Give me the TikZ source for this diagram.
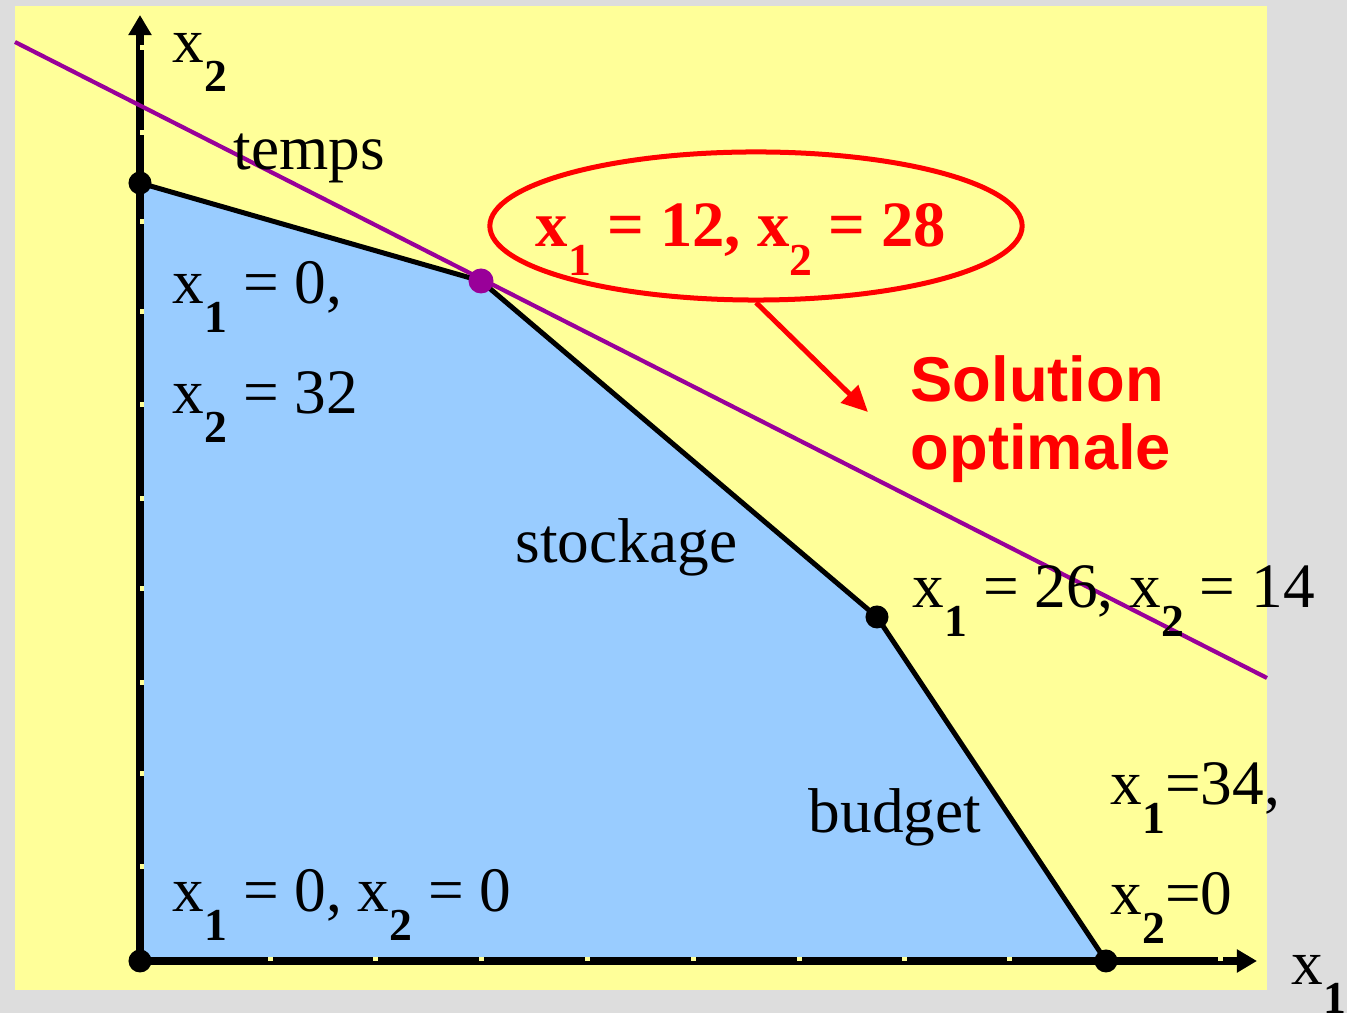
\documentclass[tikz,border=0pt]{standalone}
\usepackage{fontspec}
\setmainfont{Liberation Serif}
\setsansfont{Liberation Sans}
\usetikzlibrary{arrows.meta,shapes.geometric}
\definecolor{fondgris}{HTML}{DDDDDD}
\definecolor{fondjaune}{HTML}{FFFF99}
\definecolor{zonebleue}{HTML}{99CCFF}
\definecolor{violet}{HTML}{990099}
\newcommand{\xv}[1]{x\raisebox{-8.2pt}{\fontsize{13}{13}\selectfont\bfseries #1}}

\begin{document}
\begin{tikzpicture}[
  x=0.01cm, y=-0.01cm,
  texte/.style={anchor=base west,inner sep=0pt,font=\fontsize{18}{20}\selectfont},
  rouge/.style={texte,text=red,font=\fontsize{18.4}{20}\selectfont\bfseries},
  sommet/.style={circle,fill=black,inner sep=0pt,minimum size=0.23cm},
  axe/.style={line width=0.08cm,-{Triangle[length=0.2cm,width=0.22cm]}},
  bord/.style={line width=0.05cm},
  fleche/.style={red,line width=0.05cm,-{Triangle[length=0.26cm,width=0.24cm]}}
]
  \useasboundingbox (0,0) rectangle (1347,1013);
  \fill[fondgris] (0,0) rectangle (1347,1013);
  \fill[fondjaune] (15,6) rectangle (1267,990);

  \coordinate (o) at (140,961);
  \coordinate (a) at (140,183);
  \coordinate (opt) at (481,281);
  \coordinate (b) at (877,617);
  \coordinate (c) at (1106,961);
  \coordinate (haut) at (140,15);
  \coordinate (droite) at (1257,961);
  \coordinate (g) at (15,42);
  \coordinate (d) at (1267,678);

  \fill[zonebleue] (o) -- (a) -- (opt) -- (b) -- (c) -- cycle;
  \draw[bord] (a) -- (opt) -- (b) -- (c);
  \draw[axe] (o) -- (haut);
  \draw[axe] (o) -- (droite);
  \foreach \t in {270,375,481,587,693,799,904,1009,1114,1220}
    \fill[fondjaune] (\t-2.5,957) rectangle (\t+2.5,961);
  \foreach \t in {48,133,222,312,405,499,589,683,774,867}
    \fill[fondjaune] (140,\t-2.5) rectangle (144,\t+2.5);
  \draw[violet,line width=0.042cm] (g) -- (d);

  \node[sommet] (s0) at (o) {};
  \node[sommet] (s1) at (a) {};
  \node[sommet,fill=violet,minimum size=0.25cm] (s2) at (opt) {};
  \node[sommet] (s3) at (b) {};
  \node[sommet] (s4) at (c) {};

  \node[texte] (lx2) at (172,63) {\xv{2}};
  \node[texte] (lx1) at (1291,985) {\xv{1}};
  \node[texte] (ltemps) at (233,170) {temps};
  \node[texte] (la1) at (172,304) {\xv{1} = 0,};
  \node[texte] (la2) at (172,414) {\xv{2} = 32};
  \node[texte] (lstock) at (515,563) {stockage};
  \node[texte] (lb) at (912,608) {\xv{1} = 26, \xv{2} = 14};
  \node[texte] (lbudget) at (808,833) {budget};
  \node[texte] (lc1) at (1110,805) {\xv{1}=34,};
  \node[texte] (lc2) at (1110,915) {\xv{2}=0};
  \node[texte] (lo) at (172,912) {\xv{1} = 0, \xv{2} = 0};

  \node[draw=red,ellipse,line width=0.05cm,minimum width=5.32cm,minimum height=1.48cm] (bulle) at (756,226) {};
  \node[rouge] (lopt) at (535,247) {\xv{1} = 12, \xv{2} = 28};
  \coordinate (pointe) at (868,412);
  \draw[fleche] (bulle.south) -- (pointe);
  \node[rouge,font=\fontsize{18}{20}\selectfont\sffamily\bfseries] (lsol1) at (910,402) {Solution};
  \node[rouge,font=\fontsize{18}{20}\selectfont\sffamily\bfseries] (lsol2) at (910,470) {optimale};
\end{tikzpicture}
\end{document}
